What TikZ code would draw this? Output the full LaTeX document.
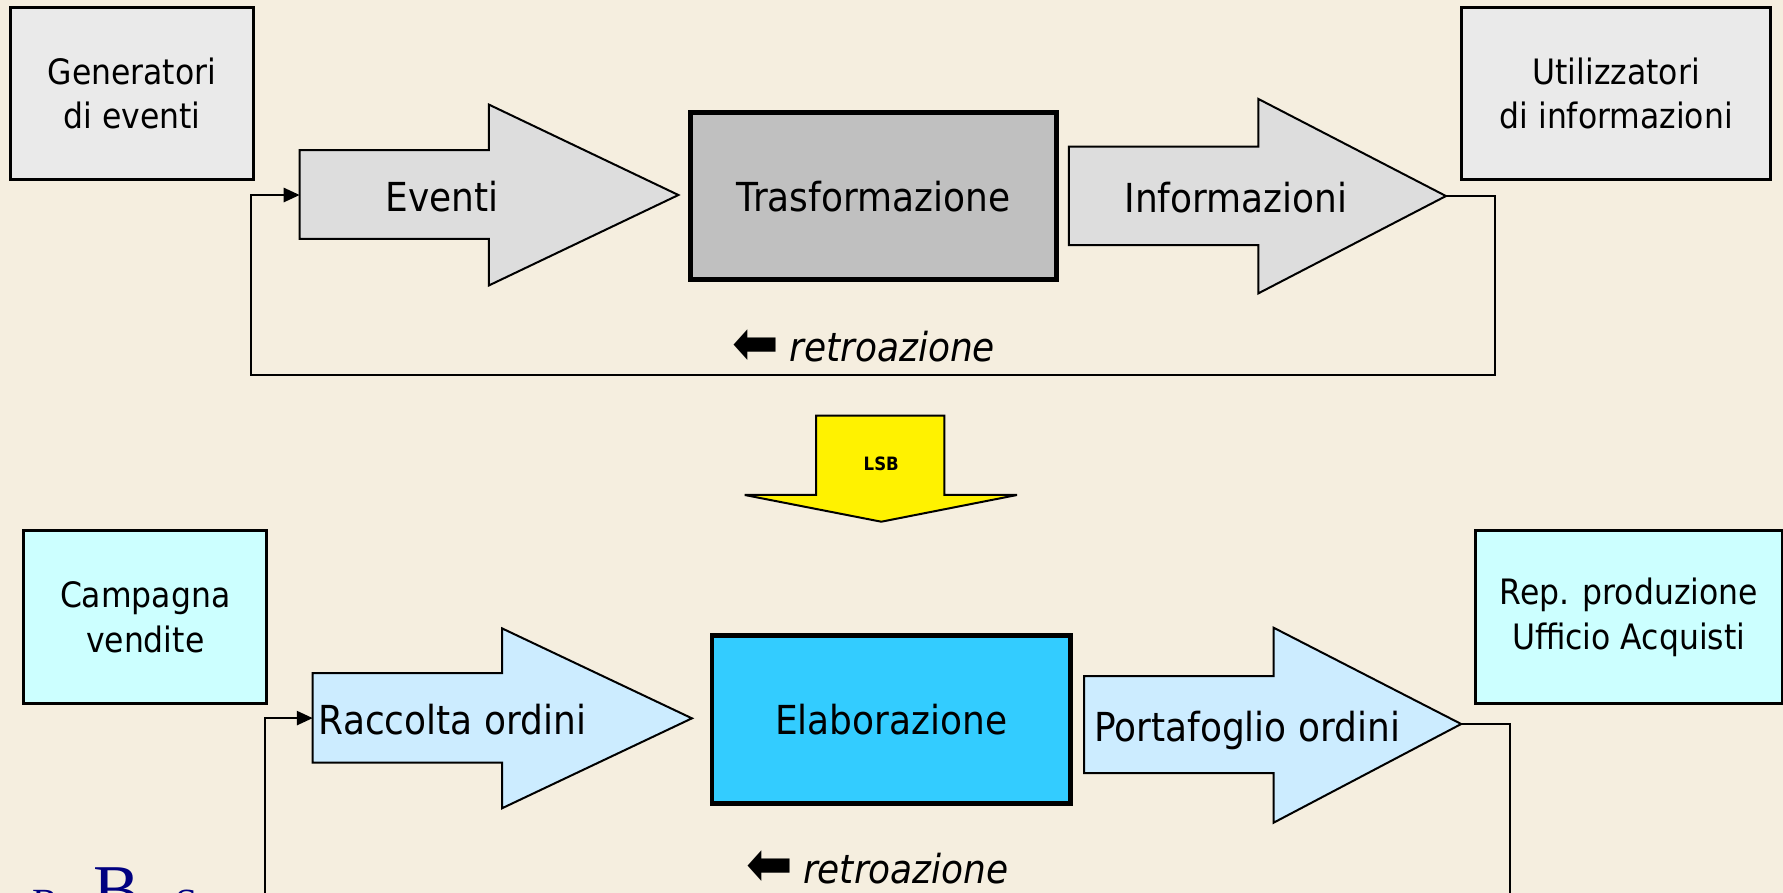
\documentclass[tikz,border=0pt]{standalone}
\usepackage{fontspec}
\setmainfont{DejaVu Sans}[FakeStretch=0.9]
\newfontfamily\logofont{Liberation Serif}
\usetikzlibrary{arrows.meta}
\definecolor{bg}{HTML}{F5EEDF}
\definecolor{boxgray}{HTML}{EAEAEA}
\definecolor{arrgray}{HTML}{DDDDDD}
\definecolor{coregray}{HTML}{C0C0C0}
\definecolor{boxcyan}{HTML}{CCFFFF}
\definecolor{arrblue}{HTML}{CCECFF}
\definecolor{coreblue}{HTML}{33CCFF}
\definecolor{logoblue}{HTML}{000080}
\newcommand{\retro}{{\fontsize{31}{31}\selectfont\raisebox{-0.04em}{⬅}}\hspace{0.25em}\textit{retroazione}}
\tikzset{
    box/.style={draw,line width=1.4pt,align=center,font=\fontsize{17.5}{22.4}\selectfont},
    core/.style={draw,line width=2.3pt,font=\fontsize{20}{24}\selectfont},
    bigarrow/.style={draw,line width=1pt,line join=miter},
    lbl/.style={font=\fontsize{20}{24}\selectfont,inner sep=0pt},
    fb/.style={line width=1pt,-{Triangle[length=2.8mm,width=2.5mm]}},
}

\begin{document}
\begin{tikzpicture}[x=0.2mm,y=-0.2mm]
    \useasboundingbox(0,0)rectangle(1568,785);
    \fill[bg](0,0)rectangle(1568,785);
    % modello generale
    \node[box,fill=boxgray,minimum width=42.8mm,minimum height=30.3mm](gen)at(116,82.2){Generatori\\di eventi};
    \node[box,fill=boxgray,minimum width=54.3mm,minimum height=30.3mm](util)at(1421.3,82.2){Utilizzatori\\di informazioni};
    \draw[bigarrow,fill=arrgray](263.5,132)--(430,132)--(430,92)--(596.6,171.5)--(430,251)--(430,210)--(263.5,210)--cycle;
    \coordinate(etail)at(263.5,171.5);
    \node[lbl,anchor=base](eventi)at(389,186.2){Eventi};
    \node[core,fill=coregray,minimum width=64.4mm,minimum height=29.4mm](trasf)at(768,172.5){Trasformazione};
    \draw[bigarrow,fill=arrgray](940,129)--(1106.6,129)--(1106.6,87)--(1271.6,172.4)--(1106.6,258)--(1106.6,215.5)--(940,215.5)--cycle;
    \coordinate(itip)at(1271.6,172.4);
    \node[lbl,anchor=base](info)at(1087,186.5){Informazioni};
    \coordinate(fbtr)at(1315,330);
    \coordinate(fbtl)at(221,330);
    \draw[fb](itip)-|(fbtr)--(fbtl)|-(etail);
    \node[lbl,anchor=base west](retroA)at(644,318){\retro};
    % LSB
    \draw[bigarrow,fill=yellow](717.8,365.5)--(830.5,365.5)--(830.5,435.3)--(894.4,435.3)--(775,458.8)--(654.9,435.3)--(717.8,435.3)--cycle;
    \node[font=\fontsize{9.2}{11}\selectfont\bfseries](lsb)at(775,407.5){LSB};
    % caso aziendale
    \node[box,fill=boxcyan,minimum width=42.7mm,minimum height=30.4mm](camp)at(127.7,542.6){Campagna\\vendite};
    \node[box,fill=boxcyan,minimum width=53.9mm,minimum height=30.4mm](rep)at(1432.35,542.6){Rep. produzione\\Ufficio Acquisti};
    \draw[bigarrow,fill=arrblue](275,592)--(441.5,592)--(441.5,552.6)--(608.5,631.7)--(441.5,710.8)--(441.5,670.7)--(275,670.7)--cycle;
    \coordinate(rtail)at(275,631.5);
    \node[lbl,anchor=base west](racc)at(280,645.8){Raccolta ordini};
    \node[core,fill=coreblue,minimum width=63.1mm,minimum height=29.5mm](elab)at(783.75,632.75){Elaborazione};
    \draw[bigarrow,fill=arrblue](953.3,594.5)--(1120,594.5)--(1120,552)--(1285,636.7)--(1120,723.5)--(1120,680)--(953.3,680)--cycle;
    \coordinate(ptip)at(1285,636.7);
    \node[lbl,anchor=base west](port)at(961.8,652.2){Portafoglio ordini};
    \coordinate(fbbr)at(1328,800);
    \coordinate(fbbl)at(232.9,800);
    \draw[line width=1pt](ptip)-|(fbbr);
    \draw[fb](fbbl)|-(rtail);
    \node[lbl,anchor=base west](retroB)at(656,776.8){\retro};
    % logo
    \node[anchor=base west,inner sep=0pt,text=logoblue,font=\logofont\fontsize{20}{20}\selectfont](logoA)at(28,806){R};
    \node[anchor=base west,inner sep=0pt,text=logoblue,font=\logofont\fontsize{35}{35}\selectfont](logoB)at(82,803){B};
    \node[anchor=base west,inner sep=0pt,text=logoblue,font=\logofont\fontsize{20}{20}\selectfont](logoC)at(154,806){S};
\end{tikzpicture}
\end{document}
